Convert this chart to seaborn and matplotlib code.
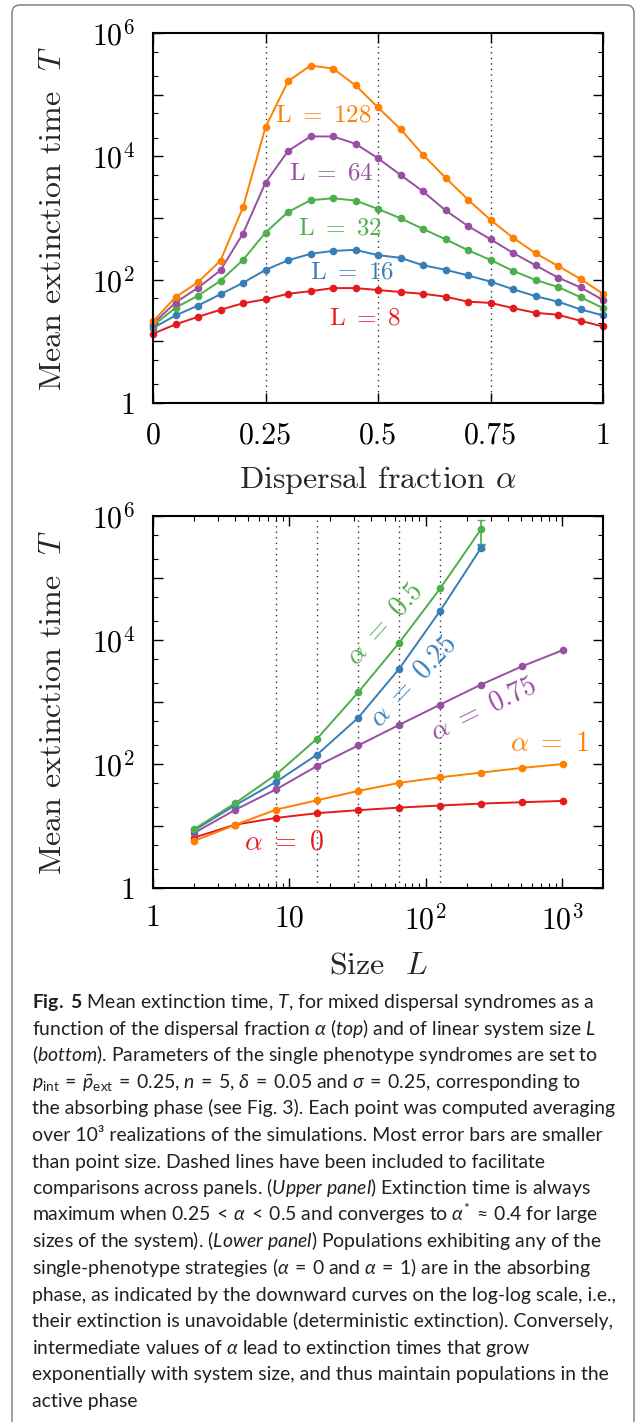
import numpy as np
import pandas as pd
import matplotlib
matplotlib.use("Agg")
import matplotlib.pyplot as plt
import seaborn as sns
from matplotlib.patches import FancyBboxPatch
from matplotlib.ticker import FixedLocator, FixedFormatter, LogLocator, NullFormatter

# ---------------- data ----------------
alpha = [0.0, 0.05, 0.1, 0.15, 0.2, 0.25, 0.3, 0.35, 0.4, 0.45, 0.5,
         0.55, 0.6, 0.65, 0.7, 0.75, 0.8, 0.85, 0.9, 0.95, 1.0]
T_L128 = [21, 52, 91, 204, 1490, 29700, 165000, 297000, 265000, 142000, 62000,
          27600, 10600, 4500, 1990, 930, 480, 268, 167, 103, 59]
T_L64 = [19.2, 42.6, 73.7, 142, 560, 3740, 12200, 21000, 21000, 16000, 9300,
         5000, 2700, 1330, 740, 452, 272, 171, 108, 75, 47]
T_L32 = [17.9, 35, 55, 96, 209, 580, 1250, 1940, 2090, 1920, 1400,
         990, 665, 452, 300, 209, 139, 99, 76, 52, 34.6]
T_L16 = [16.4, 26.3, 38, 58, 89, 144, 206, 262, 293, 304, 250,
         226, 171, 145, 117, 93, 70, 54, 44, 33, 26.3]
T_L8 = [13.3, 18.8, 25, 32.5, 41.5, 48, 59, 65, 73, 73, 68,
        63, 59, 53, 44, 42, 34.6, 29, 27, 21.5, 17.4]
top_labels = ["$\\mathrm{L}\\ =\\ 128$", "$\\mathrm{L}\\ =\\ 64$", "$\\mathrm{L}\\ =\\ 32$",
              "$\\mathrm{L}\\ =\\ 16$", "$\\mathrm{L}\\ =\\ 8$"]

sizes = [2, 4, 8, 16, 32, 64, 128, 256, 512, 1024]
sizes_short = [2, 4, 8, 16, 32, 64, 128, 256]
T_a05 = [8.9, 23.3, 67.6, 257, 1430, 9040, 68000, 620000]
T_a025 = [8.5, 21.6, 51.5, 142, 556, 3440, 29700, 310000]
T_a075 = [7.7, 18.2, 39, 93, 199, 428, 910, 1915, 3780, 6920]
T_a1 = [5.74, 10.4, 18.4, 26, 36.8, 49.6, 61, 72.8, 86.6, 100]
T_a0 = [6.5, 10.5, 13.5, 16.1, 18, 19.8, 21.4, 23, 24.2, 25.4]
err_a05_last = (260000, 230000)   # (below, above) at L=256
err_a025_last = (20000, 30000)
bottom_labels = ["$\\alpha\\ =\\ 0.5$", "$\\alpha\\ =\\ 0.25$", "$\\alpha\\ =\\ 0.75$",
                 "$\\alpha\\ =\\ 1$", "$\\alpha\\ =\\ 0$"]

top_xticks = [0, 0.25, 0.5, 0.75, 1]
top_xticklabels = ["0", "0.25", "0.5", "0.75", "1"]
y_ticks = [1, 1e1, 1e2, 1e3, 1e4, 1e5, 1e6]
y_ticklabels = ["1", "", "$10^2$", "", "$10^4$", "", "$10^6$"]
bot_xticks = [1, 10, 100, 1000]
bot_xticklabels = ["1", "10", "$10^2$", "$10^3$"]
guide_alpha = [0.25, 0.5, 0.75]
guide_sizes = [8, 16, 32, 64, 128]

S = "\\:"
caption_lines = [
    "$\\mathbf{Fig.}$ $\\mathbf{5}$ Mean extinction time, $\\mathit{T}$, for mixed dispersal syndromes as a",
    "function of the dispersal fraction $\\alpha$ ($\\mathit{top}$) and of linear system size $\\mathit{L}$",
    "($\\mathit{bottom}$). Parameters of the single phenotype syndromes are set to",
    f"$p_{{\\mathrm{{int}}}}{S}={S}\\bar{{p}}_{{\\mathrm{{ext}}}}{S}={S}0.25$, $n{S}={S}5$, $\\delta{S}={S}0.05$ and $\\sigma{S}={S}0.25$, corresponding to",
    "the absorbing phase (see Fig. 3). Each point was computed averaging",
    "over 10\u00b3 realizations of the simulations. Most error bars are smaller",
    "than point size. Dashed lines have been included to facilitate",
    "comparisons across panels. ($\\mathit{Upper\\ panel}$) Extinction time is always",
    f"maximum when $0.25{S}<{S}\\alpha{S}<{S}0.5$ and converges to $\\alpha^{{*}}{S}\\approx{S}0.4$ for large",
    "sizes of the system). ($\\mathit{Lower\\ panel}$) Populations exhibiting any of the",
    f"single-phenotype strategies ($\\alpha{S}={S}0$ and $\\alpha{S}={S}1$) are in the absorbing",
    "phase, as indicated by the downward curves on the log-log scale, i.e.,",
    "their extinction is unavoidable (deterministic extinction). Conversely,",
    "intermediate values of $\\alpha$ lead to extinction times that grow",
    "exponentially with system size, and thus maintain populations in the",
    "active phase",
]

# ---------------- style ----------------
sns.set_style("ticks")
CAP_FONT = "Lato"
plt.rcParams.update({
    "font.family": ["cmr10", "DejaVu Serif"],
    "mathtext.fontset": "cm",
    "axes.formatter.use_mathtext": True,
    "axes.unicode_minus": False,
    "mathtext.rm": CAP_FONT,
    "mathtext.it": CAP_FONT + ":italic",
    "mathtext.bf": CAP_FONT + ":bold",
    "mathtext.sf": CAP_FONT,
})
red, blue, green, purple, orange = "#e41a1c", "#377eb8", "#4daf4a", "#984ea3", "#ff7f00"

W, H = 635, 1422
fig = plt.figure(figsize=(W / 100, H / 100), dpi=100)


def rect(l, t, r, b):
    return [l / W, 1 - b / H, (r - l) / W, (b - t) / H]


FS = 21.5
LFS = 23
line_kw = dict(marker="o", markersize=5.5, markeredgewidth=0, linewidth=1.4, clip_on=False)


def style_axes(ax, xpad):
    for s in ax.spines.values():
        s.set_linewidth(1.5)
        s.set_color("black")
    ax.tick_params(which="both", direction="in", top=True, right=True,
                   labelsize=FS, colors="black")
    ax.tick_params(which="major", length=7, width=1)
    ax.tick_params(which="minor", length=3.5, width=0.8)
    ax.tick_params(axis="x", which="major", pad=xpad)
    ax.tick_params(axis="y", which="major", pad=13)


# ---------------- top panel ----------------
ax1 = fig.add_axes(rect(153, 33, 603, 403))
ax1.set_yscale("log")
for vals, c in [(T_L8, red), (T_L16, blue), (T_L32, green), (T_L64, purple), (T_L128, orange)]:
    sns.lineplot(x=alpha, y=vals, ax=ax1, color=c, **line_kw)
for a in guide_alpha:
    ax1.axvline(a, color="#333333", ls=(0, (1, 3)), lw=1.0, zorder=0)
ax1.set_xlim(0, 1)
ax1.set_ylim(1, 1e6)
ax1.xaxis.set_major_locator(FixedLocator(top_xticks))
ax1.xaxis.set_major_formatter(FixedFormatter(top_xticklabels))
ax1.yaxis.set_major_locator(FixedLocator(y_ticks))
ax1.yaxis.set_major_formatter(FixedFormatter(y_ticklabels))
ax1.yaxis.set_minor_locator(LogLocator(base=10, subs=(2, 5), numticks=20))
ax1.yaxis.set_minor_formatter(NullFormatter())
style_axes(ax1, 14)
ax1.set_xlabel("Dispersal fraction $\\alpha$", fontsize=LFS, labelpad=10)
ax1.set_ylabel("Mean extinction time  $T$", fontsize=LFS, labelpad=18)
top_pos = [(0.379, 4.66e4), (0.397, 5300), (0.416, 681), (0.443, 132), (0.47, 23.2)]
for lab, (x, y), c in zip(top_labels, top_pos, [orange, purple, green, blue, red]):
    ax1.text(x, y, lab, color=c, fontsize=18, ha="center", va="center")

# ---------------- bottom panel ----------------
ax2 = fig.add_axes(rect(153, 516, 603, 888))
ax2.set_xscale("log")
ax2.set_yscale("log")
for xs, vals, c in [(sizes, T_a0, red), (sizes, T_a1, orange), (sizes, T_a075, purple),
                    (sizes_short, T_a025, blue), (sizes_short, T_a05, green)]:
    sns.lineplot(x=xs, y=vals, ax=ax2, color=c, **line_kw)
ax2.errorbar([sizes_short[-1]], [T_a05[-1]], yerr=[[err_a05_last[0]], [err_a05_last[1]]],
             color=green, capsize=3, lw=1.2, fmt="none")
ax2.errorbar([sizes_short[-1]], [T_a025[-1]], yerr=[[err_a025_last[0]], [err_a025_last[1]]],
             color=blue, capsize=3, lw=1.2, fmt="none")
for s in guide_sizes:
    ax2.axvline(s, color="#333333", ls=(0, (1, 3)), lw=1.0, zorder=0)
ax2.set_xlim(1, 2000)
ax2.set_ylim(1, 1e6)
ax2.xaxis.set_major_locator(FixedLocator(bot_xticks))
ax2.xaxis.set_major_formatter(FixedFormatter(bot_xticklabels))
ax2.xaxis.set_minor_locator(LogLocator(base=10, subs=np.arange(2, 10), numticks=20))
ax2.xaxis.set_minor_formatter(NullFormatter())
ax2.yaxis.set_major_locator(FixedLocator(y_ticks))
ax2.yaxis.set_major_formatter(FixedFormatter(y_ticklabels))
ax2.yaxis.set_minor_locator(LogLocator(base=10, subs=(2, 5), numticks=20))
ax2.yaxis.set_minor_formatter(NullFormatter())
style_axes(ax2, 12)
ax2.set_xlabel("Size  $L$", fontsize=LFS, labelpad=12)
ax2.set_ylabel("Mean extinction time  $T$", fontsize=LFS, labelpad=18)
bot_pos = [(50, 1.8e4, 48), (80.8, 2200, 47), (266, 757, 26), (808, 214, 0), (9.09, 5.53, 0)]
for lab, (x, y, rot), c in zip(bottom_labels, bot_pos, [green, blue, purple, orange, red]):
    ax2.text(x, y, lab, color=c, fontsize=20, ha="center", va="center",
             rotation=rot, rotation_mode="anchor")

# ---------------- caption ----------------
renderer = fig.canvas.get_renderer()
cap_family = [CAP_FONT, "DejaVu Sans"]
probe = fig.text(0, 0, caption_lines[4], fontsize=10, family=cap_family,
                 math_fontfamily="custom")
wpx = probe.get_window_extent(renderer).width
probe.remove()
cap_fs = 10 * 581 / wpx
y0, dy = 1008, 26.6
for i, line in enumerate(caption_lines):
    fig.text(32 / W, 1 - (y0 + i * dy) / H, line, fontsize=cap_fs, family=cap_family,
             math_fontfamily="custom", ha="left", va="baseline", color="#231f20")

# ---------------- frame ----------------
frame = FancyBboxPatch((12 / 100, -0.5), (634 - 12) / 100, (H - 5) / 100 + 0.5,
                       boxstyle="round,pad=0,rounding_size=0.08",
                       transform=fig.dpi_scale_trans, fill=False,
                       edgecolor="#777777", lw=1.0)
fig.patches.append(frame)

fig.savefig("out.png", dpi=100)
